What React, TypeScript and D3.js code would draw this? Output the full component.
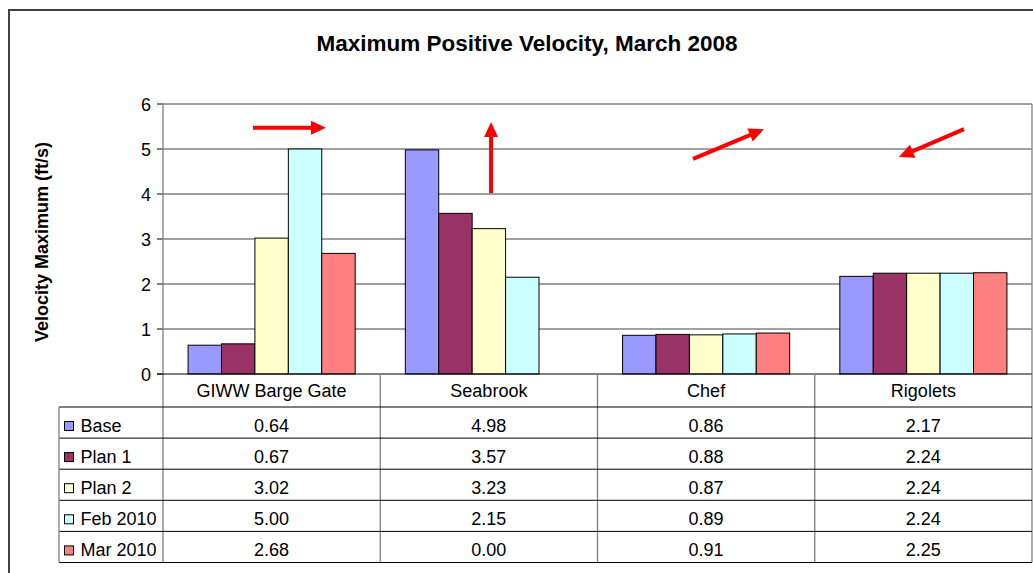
import React from "react";
import * as d3 from "d3";

const categories = ["GIWW Barge Gate", "Seabrook", "Chef", "Rigolets"];
const seriesNames = ["Base", "Plan 1", "Plan 2", "Feb 2010", "Mar 2010"];
const seriesColors = ["#9999FF", "#993366", "#FFFFCC", "#CCFFFF", "#FF8080"];
const base = [0.64, 4.98, 0.86, 2.17];
const plan1 = [0.67, 3.57, 0.88, 2.24];
const plan2 = [3.02, 3.23, 0.87, 2.24];
const feb2010 = [5.0, 2.15, 0.89, 2.24];
const mar2010 = [2.68, 0.0, 0.91, 2.25];
const seriesValues = [base, plan1, plan2, feb2010, mar2010];
const yTicks = [0, 1, 2, 3, 4, 5, 6];
const title = "Maximum Positive Velocity, March 2008";
const yLabel = "Velocity Maximum (ft/s)";
// annotation arrows: category index, fractional position within category, y value
const arrows = [
  { cat: 0, fx1: 0.414, v1: 5.47, fx2: 0.75, v2: 5.47 },
  { cat: 1, fx1: 0.51, v1: 4.02, fx2: 0.51, v2: 5.6 },
  { cat: 2, fx1: 0.44, v1: 4.78, fx2: 0.766, v2: 5.44 },
  { cat: 3, fx1: 0.687, v1: 5.44, fx2: 0.387, v2: 4.82 },
];

export default function App() {
  const W = 1033, H = 573;
  const left = 163, right = 1032, top = 104, bottom = 374;
  const x0 = d3.scaleBand().domain(categories).range([left, right]).paddingInner(0).paddingOuter(0);
  const x1 = d3.scaleBand().domain(seriesNames).range([0, x0.bandwidth()]).paddingInner(0).paddingOuter(0.75);
  const y = d3.scaleLinear().domain([0, 6]).range([bottom, top]);
  const font = "'Liberation Sans', Arial, sans-serif";
  const headerBottom = 407;
  const rowH = 31.1;
  const tableLeft = 59;
  const arrowLen = 15, arrowHalf = 7;
  const fs = 18;

  return (
    <svg width={W} height={H} style={{ position: "absolute", left: 0, top: 0, background: "#fff" }} fontFamily={font}>
      <rect x={9} y={10} width={W + 20} height={H + 20} fill="#fff" stroke="#404040" strokeWidth={2} />
      <text x={527} y={51} textAnchor="middle" fontWeight="bold" fontSize={22.5}>{title}</text>
      <text transform={`translate(48,${242}) rotate(-90)`} textAnchor="middle" fontWeight="bold" fontSize={18}>{yLabel}</text>
      {/* gridlines */}
      {yTicks.filter(t => t > 0).map(t => (
        <line key={"g" + t} x1={left} x2={right} y1={y(t)} y2={y(t)} stroke="#808080" strokeWidth={1.3} />
      ))}
      {/* plot right border */}
      <line x1={right} x2={right} y1={top} y2={bottom} stroke="#808080" strokeWidth={1.3} />
      {/* ticks */}
      {yTicks.map(t => (
        <g key={"t" + t}>
          <line x1={157} x2={left} y1={y(t)} y2={y(t)} stroke="#000" />
          <text x={151} y={y(t) + 7} textAnchor="end" fontSize={fs}>{t}</text>
        </g>
      ))}
      {/* bars */}
      {categories.map((c, ci) => (
        <g key={c}>
          {seriesNames.map((s, si) => {
            const v = seriesValues[si][ci];
            if (v <= 0) return null;
            return (
              <rect key={s} x={(x0(c) as number) + (x1(s) as number)} y={y(v)} width={x1.bandwidth()} height={y(0) - y(v)}
                fill={seriesColors[si]} stroke="#000" strokeWidth={1} />
            );
          })}
        </g>
      ))}
      {/* axes */}
      <line x1={left} x2={left} y1={top} y2={headerBottom + rowH * 5} stroke="#808080" strokeWidth={1.3} />
      <line x1={157} x2={right} y1={bottom} y2={bottom} stroke="#000" />
      {/* header row */}
      {categories.map((c, ci) => (
        <g key={"h" + c}>
          {ci > 0 && <line x1={x0(c)} x2={x0(c)} y1={bottom} y2={headerBottom + rowH * 5} stroke="#808080" strokeWidth={1.3} />}
          <text x={(x0(c) as number) + x0.bandwidth() / 2} y={397} textAnchor="middle" fontSize={fs}>{c}</text>
        </g>
      ))}
      <line x1={right} x2={right} y1={bottom} y2={headerBottom + rowH * 5} stroke="#808080" strokeWidth={1.3} />
      {/* table rows */}
      {seriesNames.map((s, si) => {
        const ry = headerBottom + si * rowH;
        return (
          <g key={"r" + s}>
            <line x1={tableLeft} x2={right} y1={ry} y2={ry} stroke="#000" />
            <rect x={64.5} y={ry + 14.5} width={9} height={9} fill={seriesColors[si]} stroke="#000" strokeWidth={1} />
            <text x={80.5} y={ry + 25} fontSize={fs}>{s}</text>
            {categories.map((c, ci) => (
              <text key={c} x={(x0(c) as number) + x0.bandwidth() / 2} y={ry + 24.5} textAnchor="middle" fontSize={fs}>
                {seriesValues[si][ci].toFixed(2)}
              </text>
            ))}
          </g>
        );
      })}
      <line x1={tableLeft} x2={right} y1={headerBottom + rowH * 5} y2={headerBottom + rowH * 5} stroke="#000" />
      <line x1={tableLeft} x2={tableLeft} y1={headerBottom} y2={headerBottom + rowH * 5} stroke="#808080" strokeWidth={1.3} />
      {/* arrows */}
      {arrows.map((a, i) => {
        const c = categories[a.cat];
        const bx = x0(c) as number;
        const xa = bx + a.fx1 * x0.bandwidth();
        const xb = bx + a.fx2 * x0.bandwidth();
        const ya = y(a.v1), yb = y(a.v2);
        const ang = Math.atan2(yb - ya, xb - xa);
        const ux = Math.cos(ang), uy = Math.sin(ang);
        const baseX = xb - ux * arrowLen, baseY = yb - uy * arrowLen;
        const px = -uy * arrowHalf, py = ux * arrowHalf;
        return (
          <g key={"a" + i}>
            <line x1={xa} y1={ya} x2={baseX + ux * 1} y2={baseY + uy * 1} stroke="#FF0000" strokeWidth={4} />
            <polygon points={`${xb},${yb} ${baseX + px},${baseY + py} ${baseX - px},${baseY - py}`} fill="#FF0000" />
          </g>
        );
      })}
    </svg>
  );
}
